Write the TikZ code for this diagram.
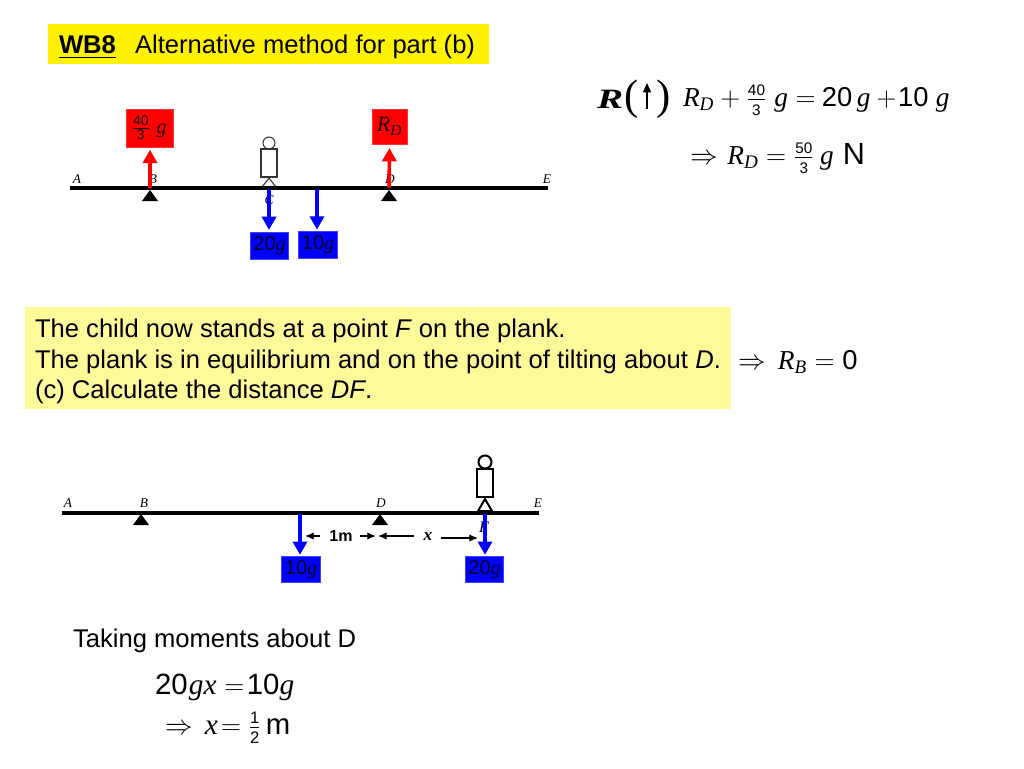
\documentclass[tikz,border=0pt]{standalone}
\usepackage{amsmath}
\usepackage{fontspec}
\setmainfont{Liberation Sans}
\newfontfamily\serifit{Liberation Serif}[ItalicFont=* Italic]
\usetikzlibrary{arrows.meta}
\newcommand{\vit}[1]{\text{\serifit\itshape #1}}
\newcommand{\num}[3]{\frac{\text{\fontsize{#3}{#3}\selectfont #1}}{\text{\fontsize{#3}{#3}\selectfont #2}}}
\newcommand{\sizept}[1]{\fontsize{#1}{#1}\selectfont}

\begin{document}
\begin{tikzpicture}[x=0.75pt, y=-0.75pt,
      every node/.append style={inner sep=0pt, outer sep=0pt},
      beam/.style={line width=2.3pt},
      pointlabel/.style={font=\sizept{10}\serifit\itshape},
      redbox/.style={fill=red, draw=red!80!white, line width=0.6pt, text=black!90!red, font=\sizept{15}, minimum height=28.5pt},
      bluebox/.style={fill=blue, draw=blue!75!white, line width=0.6pt, text=black!90!blue, font=\sizept{15}, minimum height=20pt, minimum width=29pt},
      up force/.style={-{Triangle[length=10pt,width=10.5pt]}, red, line width=2.6pt},
      down force/.style={-{Triangle[length=10pt,width=10.5pt]}, blue, line width=2.6pt},
      pivot/.style={fill=black, draw=none},
      dim/.style={-{Latex[length=6.5pt,width=5.5pt]}, line width=0.9pt},
      eq/.style={anchor=base west, font=\sizept{20.5}},
      panel/.style={font=\sizept{19.2}, anchor=base west}]
    \useasboundingbox (0,0) rectangle (1024,768);

    % heading
    \node (head) [fill=yellow, minimum width=330.75pt, minimum height=30pt, anchor=north west] at (48,24) {};
    \node (wb) [font=\sizept{19.2}\bfseries, anchor=base west] at (59,53) {\underline{WB8}};
    \node (headtext) [font=\sizept{19.2}, anchor=base west] at (135,53) {Alternative method for part (b)};

    % top plank
    \coordinate (A1) at (70,188);
    \coordinate (E1) at (548,188);
    \draw[beam] (A1) -- (E1);
    \node (la1) [pointlabel] at (77,179) {A};
    \node (lb1) [pointlabel] at (153,179) {B};
    \node (lc1) [pointlabel] at (269,200) {C};
    \node (ld1) [pointlabel] at (390,179) {D};
    \node (le1) [pointlabel] at (547,179) {E};
    \coordinate (B1) at (150,188);
    \coordinate (D1) at (389,188);
    \coordinate (C1) at (269,189);
    \coordinate (G1) at (317,189);
    \fill[pivot] (B1) ++(0,2) -- ++(8,11) -- ++(-16,0) -- cycle;
    \fill[pivot] (D1) ++(0,2) -- ++(8,11) -- ++(-16,0) -- cycle;
    \node (Rb) [redbox, minimum width=35.25pt] at (150,128) {\hspace{-1.5pt}$\num{40}{3}{10.5}\,\,\vit{g}$};
    \node (Rd) [redbox, minimum width=26.25pt, minimum height=26.25pt, font=\sizept{16.5}] at (389.5,126.5) {$\vit{R}_{\vit{D}}$};
    \draw[up force] (B1) -- ([yshift=-2pt]Rb.south);
    \draw[up force] (D1) -- ([yshift=-3pt]Rd.south);
    \node (twenty1) [bluebox] at (269.5,246) {20\vit{g}};
    \node (ten1) [bluebox] at (318,245) {10\vit{g}};
    \draw[down force] (C1) -- ([yshift=2pt]twenty1.north -| C1);
    \draw[down force] (G1) -- ([yshift=1.5pt]ten1.north -| G1);
    % child on top plank
    \draw[black!80, line width=0.8pt] (269,143) circle (6);
    \draw[black!80, line width=0.8pt] (261,149) rectangle (277,177);
    \draw[black!80, line width=0.8pt] (262,187) -- (269,178) -- (276,187);

    % equations right
    \node (res) [anchor=base west, font=\sizept{21}] at (597,108) {\scalebox{1.4}[1]{\serifit\bfseries\itshape R}};
    \node (lbra) [anchor=base west, font=\sizept{32}\serifit] at (624,109) {(};
    \node (rbra) [anchor=base east, font=\sizept{32}\serifit] at (671,109) {)};
    \coordinate (arrlow) at (647,109);
    \coordinate (arrtop) at (647,83);
    \draw[-{Triangle[length=7pt,width=6pt]}, line width=0.9pt] (arrlow) -- (arrtop);
    \node (eq1) [eq] at (683,106) {$\vit{R}_{\vit{D}}+\num{40}{3}{11.5}\;\vit{g}=\hspace{-1pt}\text{20}\,\vit{g}+\!\text{10}\hspace{5.4pt}\vit{g}$};
    \node (eq2) [eq] at (690,164) {$\Rightarrow\hspace{1.5pt}\vit{R}_{\vit{D}}=\num{50}{3}{11.5}\hspace{4.5pt}\vit{g}$\,\,{\sizept{23}N}};

    % panel
    \node (panelbox) [fill=yellow!40!white, minimum width=529.5pt, minimum height=76.5pt, anchor=north west] at (25,307) {};
    \node (line1) [panel] at (35,337) {The child now stands at a point \textit{F} on the plank.};
    \node (line2) [panel] at (35,368) {The plank is in equilibrium and on the point of tilting about \textit{D}.};
    \node (line3) [panel] at (35,398) {(c) Calculate the distance \textit{DF}.};
    \node (eq3) [eq] at (738,369) {$\Rightarrow\,\vit{R}_{\vit{B}}=\text{0}$};

    % lower plank
    \coordinate (A2) at (62,513);
    \coordinate (E2) at (539,513);
    \draw[beam] (A2) -- (E2);
    \node (la2) [pointlabel] at (68,503) {A};
    \node (lb2) [pointlabel] at (144,503) {B};
    \node (ld2) [pointlabel] at (381,503) {D};
    \node (le2) [pointlabel] at (538,503) {E};
    \node (lf2) [pointlabel, font=\sizept{12}\serifit\itshape] at (484,527) {F};
    \coordinate (B2) at (141,514);
    \coordinate (D2) at (380,514);
    \coordinate (F2) at (485,514);
    \coordinate (G2) at (300,514);
    \fill[pivot] (B2) -- ++(8,11) -- ++(-16,0) -- cycle;
    \fill[pivot] (D2) -- ++(8,11) -- ++(-16,0) -- cycle;
    \node (ten2) [bluebox] at (301,569.5) {10\vit{g}};
    \node (twenty2) [bluebox] at (484.5,569.5) {20\vit{g}};
    \draw[down force] (G2) -- ([yshift=1pt]ten2.north -| G2);
    \draw[down force] (F2) -- ([yshift=1pt]twenty2.north -| F2);
    % child on lower plank
    \draw[line width=1.5pt] (485,462) circle (6.5);
    \draw[line width=1.5pt] (477,469) rectangle (493,497);
    \draw[line width=1.5pt] (478,511) -- (485,499) -- (492,511) -- cycle;
    % distances
    \node (onem) [font=\sizept{12}\bfseries] at (341,536) {1m};
    \node (xlab) [font=\sizept{13}\serifit\itshape\bfseries] at (428,537) {x};
    \draw[dim] (onem.west) ++(-9,0) -- (305,536);
    \draw[dim] (onem.east) ++(7,0) -- (376,536);
    \draw[dim] (xlab.west) ++(-10,-1) -- (378,536);
    \draw[dim] (xlab.east) ++(9,1) -- (478,538);

    % moments
    \node (taking) [anchor=base west, font=\sizept{19.2}] at (73,647) {Taking moments about D};
    \node (eq4) [eq, font=\sizept{22}] at (155,694) {20\hspace{1pt}$\vit{gx}=$\hspace{2pt}10$\vit{g}$};
    \node (eq5) [eq, font=\sizept{22}] at (165,734) {$\Rightarrow\,\vit{x}\!=\num{1}{2}{12.5}$\,m};
\end{tikzpicture}
\end{document}
